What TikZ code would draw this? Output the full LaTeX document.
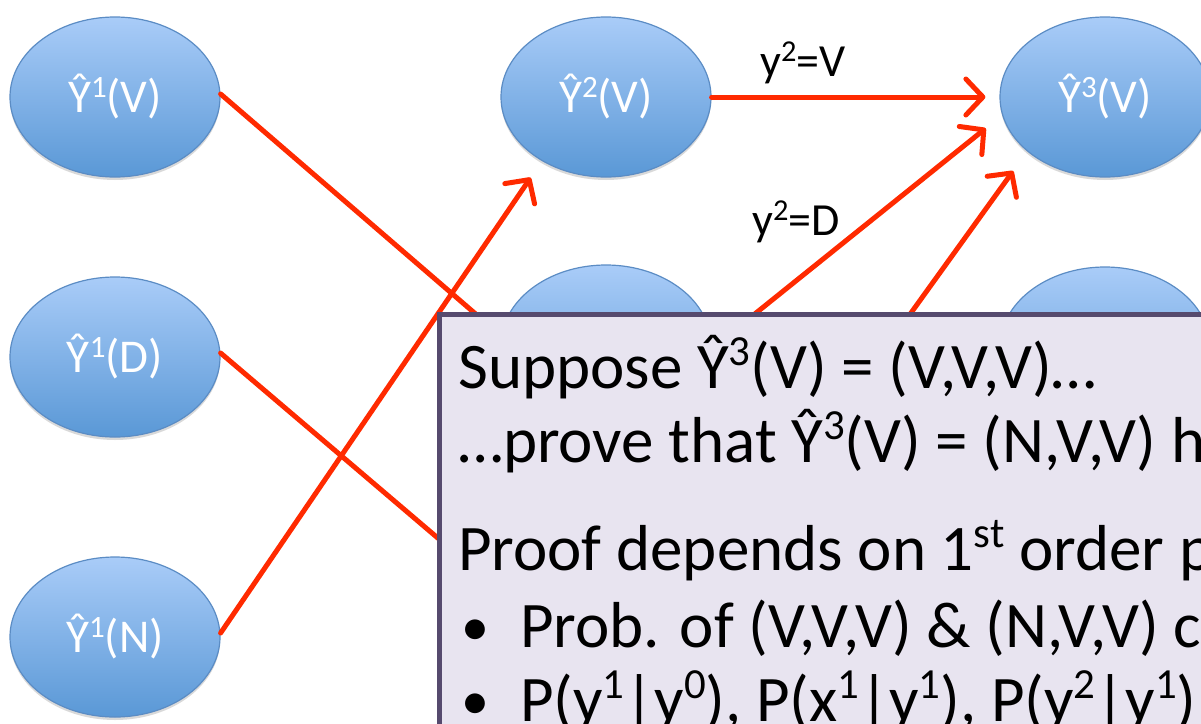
\documentclass[tikz,border=0pt]{standalone}
\usepackage{fontspec}
\usepackage{graphicx}
\setmainfont{Carlito}
\usetikzlibrary{arrows.meta,shadows,shapes.geometric}
\definecolor{arrowred}{HTML}{FF2A00}
\definecolor{elltop}{HTML}{A9CCF8}
\definecolor{ellbot}{HTML}{5A98D6}
\definecolor{elldraw}{HTML}{5B8CC4}
\definecolor{boxfill}{HTML}{E8E4F0}
\definecolor{boxdraw}{HTML}{564A6E}
\newcommand{\sups}[1]{\raisebox{0.34em}{\scalebox{0.66}{#1}}}
\begin{document}
\begin{tikzpicture}[x=1pt,y=-1pt,
  yhat/.style={ellipse, minimum width=210pt, minimum height=160pt, inner sep=0pt,
    top color=elltop, bottom color=ellbot, draw=elldraw, line width=1.2pt,
    text=white, font=\fontsize{47}{52}\selectfont,
    drop shadow={opacity=0.25, shadow xshift=0pt, shadow yshift=-3pt, fill=black!60}},
  conn/.style={draw=arrowred, line width=5pt, line cap=round},
  arr/.style={conn, -{Straight Barb[length=17pt, width=36pt, round]}},
  lab/.style={font=\fontsize{46}{50}\selectfont, inner sep=0pt},
  boxtext/.style={anchor=base west, inner sep=0pt, font=\fontsize{65}{75}\selectfont}]
\useasboundingbox (0,0) rectangle (1201,723);
\clip (0,0) rectangle (1201,723);
% nodes
\node[yhat] (a1) at (115,97) {Ŷ\sups{1}(V)};
\node[yhat] (a2) at (115,357) {Ŷ\sups{1}(D)};
\node[yhat] (a3) at (115,637) {Ŷ\sups{1}(N)};
\node[yhat] (b1) at (606,97) {Ŷ\sups{2}(V)};
\node[yhat] (b2) at (606,345) {};
\node[yhat] (c1) at (1105,97) {Ŷ\sups{3}(V)};
\node[yhat] (c2) at (1105,347) {};
% hidden ends under the box
\coordinate (h1) at (500,335);
\coordinate (h2) at (500,591);
\coordinate (h5) at (700,358);
\coordinate (h6) at (880,356);
% connectors
\draw[conn] ([yshift=3pt]a1.east) -- (h1);
\draw[conn] ([yshift=4pt]a2.east) -- (h2);
\draw[arr, shorten >=20pt] ([yshift=4pt]a3.east) -- (b1.225);
\draw[arr, shorten >=14pt] (b1.east) -- (c1.west);
\draw[arr, shorten >=21pt] (h5) -- (c1.190);
\draw[arr, shorten >=24pt] (h6) -- (c1.215);
\node[lab] (l1) at (803,63) {y\sups{2}=V};
\node[lab] (l2) at (796,222) {y\sups{2}=D};
% text box
\node[draw=boxdraw, fill=boxfill, line width=4.5pt, anchor=north west,
  minimum width=900pt, minimum height=500pt] (box) at (437,312) {};
\node[boxtext] (t1) at (458,388) {Suppose Ŷ\sups{3}(V) = (V,V,V)…};
\node[boxtext] (t2) at (458,462) {…prove that Ŷ\sups{3}(V) = (N,V,V) h};
\node[boxtext] (t3) at (458,570) {Proof depends on 1\sups{st} order p};
\node[boxtext, font=\fontsize{56}{70}\selectfont] (b4) at (461,645) {•};
\node[boxtext] (t4) at (520,647) {Prob. of (V,V,V) \& (N,V,V) c};
\node[boxtext, font=\fontsize{56}{70}\selectfont] (b5) at (461,719) {•};
\node[boxtext] (t5) at (520,721) {P(y\sups{1}|y\sups{0}), P(x\sups{1}|y\sups{1}), P(y\sups{2}|y\sups{1})};
\end{tikzpicture}
\end{document}
